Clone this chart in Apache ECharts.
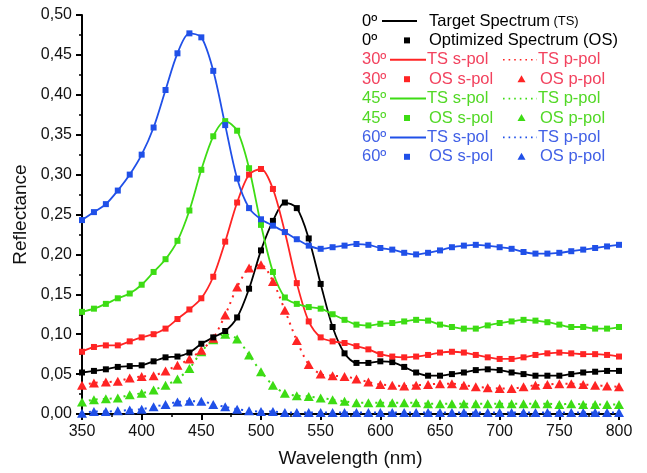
<!DOCTYPE html>
<html>
<head>
<meta charset="utf-8">
<script src="https://cdn.jsdelivr.net/npm/echarts@6/dist/echarts.min.js"></script>
<style>
  html, body { margin: 0; padding: 0; background: #fff; }
  #chart { width: 647px; height: 473px; }
</style>
</head>
<body>
<div id="chart"></div>
<script>
// wavelength grid (nm)
var wavelength = [350,360,370,380,390,400,410,420,430,440,450,460,470,480,490,500,510,520,530,540,
                  550,560,570,580,590,600,610,620,630,640,650,660,670,680,690,700,710,720,730,740,
                  750,760,770,780,790,800];

// 0 deg
var r0 = [0.052,0.054,0.056,0.059,0.060,0.061,0.066,0.071,0.072,0.077,0.088,0.096,0.104,0.121,0.157,0.205,0.242,0.265,0.258,0.220,
          0.163,0.109,0.076,0.064,0.064,0.066,0.065,0.059,0.052,0.048,0.048,0.050,0.052,0.055,0.056,0.055,0.052,0.050,0.048,0.048,
          0.048,0.050,0.052,0.053,0.054,0.054];
// 30 deg
var r30s = [0.078,0.084,0.086,0.086,0.091,0.096,0.100,0.107,0.119,0.131,0.145,0.172,0.216,0.265,0.300,0.307,0.282,0.228,0.164,0.116,
            0.096,0.091,0.089,0.085,0.081,0.075,0.072,0.071,0.072,0.074,0.077,0.078,0.077,0.074,0.071,0.069,0.069,0.071,0.074,0.076,
            0.077,0.076,0.075,0.075,0.074,0.072];
var r30p = [0.036,0.039,0.040,0.041,0.045,0.047,0.048,0.054,0.061,0.069,0.080,0.095,0.124,0.159,0.183,0.187,0.166,0.130,0.092,0.062,
            0.050,0.048,0.047,0.044,0.040,0.037,0.036,0.035,0.036,0.037,0.038,0.038,0.036,0.034,0.033,0.032,0.032,0.034,0.036,0.037,
            0.038,0.038,0.037,0.036,0.035,0.034];
// 45 deg
var r45s = [0.128,0.132,0.138,0.145,0.151,0.162,0.178,0.194,0.217,0.255,0.306,0.348,0.367,0.355,0.308,0.237,0.178,0.146,0.138,0.134,
            0.132,0.125,0.118,0.112,0.111,0.113,0.114,0.116,0.118,0.117,0.112,0.109,0.107,0.107,0.111,0.114,0.116,0.118,0.117,0.115,
            0.112,0.109,0.109,0.107,0.107,0.109];
var r45p = [0.015,0.018,0.019,0.020,0.024,0.026,0.030,0.036,0.044,0.057,0.078,0.093,0.100,0.094,0.074,0.053,0.036,0.026,0.023,0.022,
            0.020,0.018,0.016,0.014,0.014,0.014,0.014,0.014,0.014,0.013,0.013,0.013,0.013,0.013,0.013,0.013,0.013,0.013,0.013,0.013,
            0.012,0.013,0.012,0.012,0.012,0.012];
// 60 deg
var r60s = [0.243,0.253,0.263,0.280,0.300,0.325,0.359,0.406,0.452,0.477,0.472,0.430,0.362,0.295,0.258,0.244,0.236,0.228,0.219,0.211,
            0.207,0.209,0.211,0.213,0.212,0.208,0.206,0.202,0.200,0.202,0.205,0.209,0.211,0.212,0.211,0.209,0.207,0.203,0.201,0.201,
            0.202,0.204,0.206,0.208,0.210,0.212];
var r60p = [0.001,0.003,0.003,0.004,0.005,0.006,0.009,0.012,0.015,0.016,0.016,0.012,0.009,0.006,0.004,0.003,0.003,0.002,0.002,0.002,
            0.002,0.002,0.002,0.002,0.002,0.002,0.002,0.002,0.002,0.002,0.002,0.002,0.002,0.002,0.002,0.002,0.002,0.002,0.002,0.002,
            0.002,0.002,0.002,0.002,0.002,0.002];

var FONT = '"Liberation Sans", Arial, sans-serif';
var BLACK = '#000000', RED = '#ff2424', GREEN = '#3ddc14', BLUE = '#2050e8';
var TRED = '#f2425e', TGREEN = '#52d826', TBLUE = '#4160e6';

function pairs(vals) {
    return wavelength.map(function (w, i) { return [w, vals[i]]; });
}

function curve(name, vals, color, dotted, symbol) {
    return {
        name: name,
        type: 'line',
        smooth: 0.3,
        data: pairs(vals),
        showSymbol: true,
        symbol: symbol,
        symbolSize: symbol === 'triangle' ? [10, 9] : 6,
        itemStyle: { color: color },
        lineStyle: dotted ? { color: color, width: 2, type: [2, 5] } : { color: color, width: 1.8 },
        clip: false,
        animation: false
    };
}

// legend rows (drawn as graphic elements)
var legendRows = [
    { ang: '0º',  color: BLACK, tc: BLACK,  kind: 'ts0' },
    { ang: '0º',  color: BLACK, tc: BLACK,  kind: 'os0' },
    { ang: '30º', color: RED,   tc: TRED,   kind: 'ts' },
    { ang: '30º', color: RED,   tc: TRED,   kind: 'os' },
    { ang: '45º', color: GREEN, tc: TGREEN, kind: 'ts' },
    { ang: '45º', color: GREEN, tc: TGREEN, kind: 'os' },
    { ang: '60º', color: BLUE,  tc: TBLUE,  kind: 'ts' },
    { ang: '60º', color: BLUE,  tc: TBLUE,  kind: 'os' }
];

var LF = '16.5px ' + FONT;
var graphics = [];
legendRows.forEach(function (r, i) {
    var y = 21 + i * 19.4;
    function txt(x, s, col) {
        graphics.push({ type: 'text', x: x, y: y, style: { text: s, fill: col, font: LF, verticalAlign: 'middle' } });
    }
    txt(362, r.ang, r.tc);
    if (r.kind === 'ts0') {
        graphics.push({ type: 'line', shape: { x1: 382, y1: y, x2: 417, y2: y }, style: { stroke: r.color, lineWidth: 2 } });
        graphics.push({ type: 'text', x: 429, y: y, style: {
            text: '{a|Target Spectrum} {b|(TS)}', verticalAlign: 'middle',
            rich: { a: { font: LF, fill: BLACK }, b: { font: '13px ' + FONT, fill: BLACK } } } });
    } else if (r.kind === 'os0') {
        graphics.push({ type: 'rect', shape: { x: 404, y: y - 3, width: 6, height: 6 }, style: { fill: r.color } });
        txt(429, 'Optimized Spectrum (OS)', BLACK);
    } else if (r.kind === 'ts') {
        graphics.push({ type: 'line', shape: { x1: 390, y1: y, x2: 426, y2: y }, style: { stroke: r.color, lineWidth: 2 } });
        txt(427, 'TS s-pol', r.tc);
        graphics.push({ type: 'line', shape: { x1: 503, y1: y, x2: 537, y2: y }, style: { stroke: r.color, lineWidth: 1.6, lineDash: [1.6, 4] } });
        txt(538, 'TS p-pol', r.tc);
    } else {
        graphics.push({ type: 'rect', shape: { x: 404, y: y - 3, width: 6, height: 6 }, style: { fill: r.color } });
        txt(429, 'OS s-pol', r.tc);
        graphics.push({ type: 'polygon', shape: { points: [[521.5, y - 4], [525.5, y + 3], [517.5, y + 3]] }, style: { fill: r.color } });
        txt(540, 'OS p-pol', r.tc);
    }
});

var chart = echarts.init(document.getElementById('chart'));

chart.setOption({
    backgroundColor: '#ffffff',
    animation: false,
    grid: { left: 82, right: 28, top: 15, bottom: 59 },
    xAxis: {
        type: 'value',
        min: 350,
        max: 800,
        interval: 50,
        name: 'Wavelength (nm)',
        nameLocation: 'middle',
        nameGap: 35,
        nameTextStyle: { fontFamily: FONT, fontSize: 19, color: '#111' },
        axisLine: { onZero: false, lineStyle: { color: '#000', width: 2 } },
        axisTick: { length: 6, lineStyle: { color: '#000', width: 2 } },
        minorTick: { show: true, splitNumber: 2, length: 3, lineStyle: { color: '#000', width: 1.5 } },
        splitLine: { show: false },
        axisLabel: { fontFamily: FONT, fontSize: 16, color: '#111', margin: 10 }
    },
    yAxis: {
        type: 'value',
        min: 0,
        max: 0.5,
        interval: 0.05,
        name: 'Reflectance',
        nameLocation: 'middle',
        nameGap: 48,
        nameTextStyle: { fontFamily: FONT, fontSize: 19, color: '#111' },
        axisLine: { show: true, lineStyle: { color: '#000', width: 2 } },
        axisTick: { show: true, length: 6, lineStyle: { color: '#000', width: 2 } },
        minorTick: { show: true, splitNumber: 2, length: 3, lineStyle: { color: '#000', width: 1.5 } },
        splitLine: { show: false },
        axisLabel: {
            fontFamily: FONT, fontSize: 16, color: '#111', margin: 10,
            formatter: function (v) { return v.toFixed(2).replace('.', ','); }
        }
    },
    graphic: graphics,
    series: [
        curve('60 p', r60p, BLUE, true, 'triangle'),
        curve('45 p', r45p, GREEN, true, 'triangle'),
        curve('30 p', r30p, RED, true, 'triangle'),
        curve('0', r0, BLACK, false, 'rect'),
        curve('30 s', r30s, RED, false, 'rect'),
        curve('45 s', r45s, GREEN, false, 'rect'),
        curve('60 s', r60s, BLUE, false, 'rect')
    ]
});
</script>
</body>
</html>
